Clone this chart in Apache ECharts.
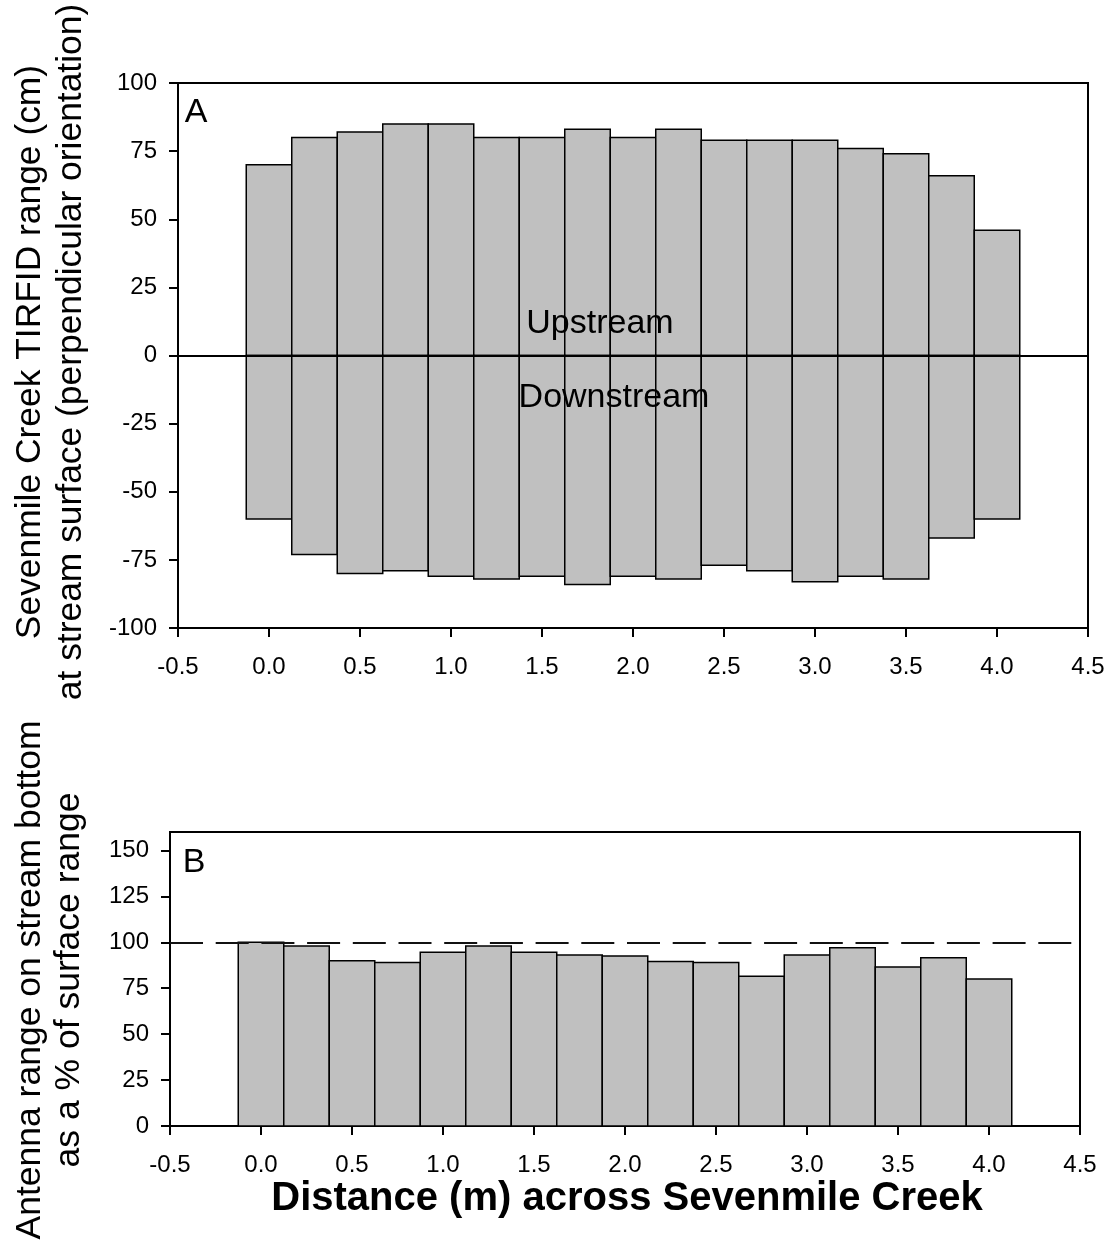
<!DOCTYPE html>
<html>
<head>
<meta charset="utf-8">
<script src="https://cdn.jsdelivr.net/npm/echarts@6/dist/echarts.min.js"></script>
<style>
html,body{margin:0;padding:0;background:#fff;}
#chart{width:1112px;height:1247px;}
</style>
</head>
<body>
<div id="chart"></div>
<script>
// ---- data ----
const positions = [0, 0.25, 0.5, 0.75, 1.0, 1.25, 1.5, 1.75, 2.0, 2.25, 2.5, 2.75, 3.0, 3.25, 3.5, 3.75, 4.0];
const upstream = [70, 80, 82, 85, 85, 80, 80, 83, 80, 83, 79, 79, 79, 76, 74, 66, 46];
const downstream = [-60, -73, -80, -79, -81, -82, -81, -84, -81, -82, -77, -79, -83, -81, -82, -67, -60];
const bottomPct = [100, 98, 90, 89, 94.5, 98, 94.5, 93, 92.5, 89.5, 89, 81.5, 93, 97, 86.5, 91.5, 80];
const bTickValues = [0, 25, 50, 75, 100, 125, 150];
const referencePct = 100;
const BAR_WIDTH = 0.25; // width of each bar in metres

const FONT = '"Liberation Sans", Arial, Helvetica, sans-serif';

function pairs(xs, ys) { return xs.map((x, i) => [x, ys[i]]); }

function renderBar(params, api) {
  const x = api.value(0), y = api.value(1);
  const p1 = api.coord([x - BAR_WIDTH / 2, y]);
  const p2 = api.coord([x + BAR_WIDTH / 2, 0]);
  const top = Math.min(p1[1], p2[1]);
  return {
    type: 'rect',
    shape: { x: p1[0], y: top, width: p2[0] - p1[0], height: Math.abs(p2[1] - p1[1]) },
    style: { fill: '#c0c0c0', stroke: '#000', lineWidth: 1.5 }
  };
}

const chart = echarts.init(document.getElementById('chart'), null, { renderer: 'canvas' });

const axisLineStyle = { color: '#000', width: 2 };
const xAxisCommon = {
  type: 'value', min: -0.5, max: 4.5, interval: 0.5,
  axisLine: { show: true, onZero: false, lineStyle: axisLineStyle },
  axisTick: { show: true, length: 9, lineStyle: { color: '#000', width: 2 } },
  axisLabel: { color: '#000', fontSize: 24, fontFamily: FONT, margin: 27, formatter: v => v.toFixed(1), showMinLabel: true, showMaxLabel: true },
  splitLine: { show: false }
};

chart.setOption({
  animation: false,
  backgroundColor: '#fff',
  grid: [
    { left: 178, right: 24, top: 83, height: 545, show: true, borderColor: '#000', borderWidth: 2, containLabel: false },
    { left: 170, right: 32, top: 832, height: 294, show: true, borderColor: '#000', borderWidth: 2, containLabel: false }
  ],
  xAxis: [
    Object.assign({ gridIndex: 0 }, xAxisCommon),
    Object.assign({ gridIndex: 1 }, xAxisCommon)
  ],
  yAxis: [
    {
      gridIndex: 0, type: 'value', min: -100, max: 100, interval: 25,
      axisLine: { show: true, onZero: false, lineStyle: axisLineStyle },
      axisTick: { show: true, length: 9, lineStyle: { color: '#000', width: 2 } },
      axisLabel: { color: '#000', fontSize: 24, fontFamily: FONT, margin: 21 },
      splitLine: { show: false }
    },
    {
      gridIndex: 1, type: 'value', min: 0, max: 160, interval: 25,
      axisLine: { show: true, onZero: false, lineStyle: axisLineStyle },
      axisTick: { show: true, length: 9, customValues: bTickValues, lineStyle: { color: '#000', width: 2 } },
      axisLabel: { color: '#000', fontSize: 24, fontFamily: FONT, margin: 21, customValues: bTickValues },
      splitLine: { show: false }
    }
  ],
  series: [
    {
      type: 'custom', name: 'Upstream', xAxisIndex: 0, yAxisIndex: 0,
      renderItem: renderBar, data: pairs(positions, upstream), silent: true,
      markLine: {
        silent: true, symbol: 'none', z: 10, label: { show: false },
        lineStyle: { color: '#000', width: 2, type: 'solid' },
        data: [{ yAxis: 0 }]
      }
    },
    {
      type: 'custom', name: 'Downstream', xAxisIndex: 0, yAxisIndex: 0,
      renderItem: renderBar, data: pairs(positions, downstream), silent: true
    },
    {
      type: 'custom', name: 'Bottom range', xAxisIndex: 1, yAxisIndex: 1,
      renderItem: renderBar, data: pairs(positions, bottomPct), silent: true,
      markLine: {
        silent: true, symbol: 'none', z: 10, label: { show: false },
        lineStyle: { color: '#111', width: 2, type: [33, 12.7] },
        data: [{ yAxis: referencePct }]
      }
    }
  ],
  graphic: [
    { type: 'text', x: 51, y: 352, rotation: Math.PI / 2, z: 100,
      style: { text: 'Sevenmile Creek TIRFID range (cm)\nat stream surface (perpendicular orientation)', font: '35.4px ' + FONT, align: 'center', verticalAlign: 'middle', lineHeight: 41, fill: '#000' } },
    { type: 'text', x: 50, y: 980, rotation: Math.PI / 2, z: 100,
      style: { text: 'Antenna range on stream bottom\nas a % of surface range', font: '35.5px ' + FONT, align: 'center', verticalAlign: 'middle', lineHeight: 39, fill: '#000' } },
    { type: 'text', x: 627, y: 1199, z: 100,
      style: { text: 'Distance (m) across Sevenmile Creek', font: 'bold 40px ' + FONT, align: 'center', verticalAlign: 'middle', fill: '#000' } },
    { type: 'text', x: 196, y: 113, z: 100,
      style: { text: 'A', font: '34px ' + FONT, align: 'center', verticalAlign: 'middle', fill: '#000' } },
    { type: 'text', x: 194, y: 863, z: 100,
      style: { text: 'B', font: '34px ' + FONT, align: 'center', verticalAlign: 'middle', fill: '#000' } },
    { type: 'text', x: 600, y: 324, z: 100,
      style: { text: 'Upstream', font: '34px ' + FONT, align: 'center', verticalAlign: 'middle', fill: '#000' } },
    { type: 'text', x: 614, y: 398, z: 100,
      style: { text: 'Downstream', font: '34px ' + FONT, align: 'center', verticalAlign: 'middle', fill: '#000' } }
  ]
});
</script>
</body>
</html>
